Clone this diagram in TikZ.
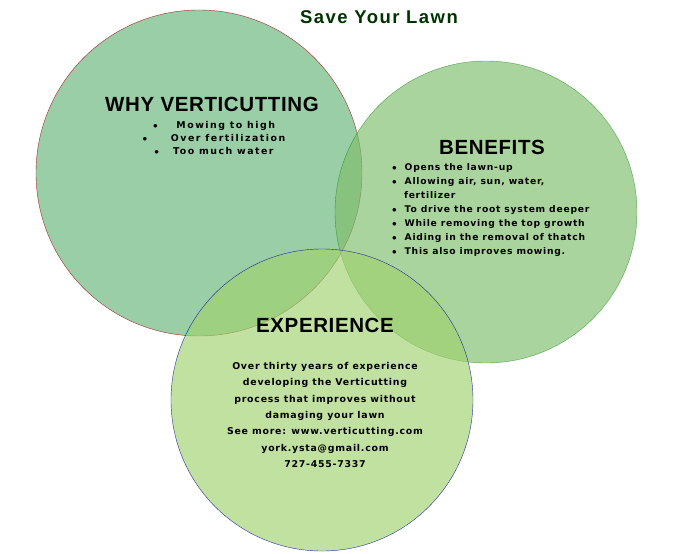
\documentclass[tikz,border=0pt]{standalone}
\usepackage{fontspec}
\setmainfont{DejaVu Sans}[LetterSpace=8]
\newfontfamily\hfont{Liberation Sans}[LetterSpace=3]
\begin{document}
\begin{tikzpicture}[x=1pt,y=-1pt,
 head/.style={font=\hfont\bfseries\fontsize{20.5}{22}\selectfont},
 small/.style={font=\bfseries\fontsize{9.2}{14}\selectfont},
 circ/.style={fill opacity=0.65}]
\useasboundingbox[fill=white] (0,0) rectangle (696,554);
\definecolor{cA}{RGB}{100,180,120}
\definecolor{cB}{RGB}{125,190,105}
\definecolor{cC}{RGB}{160,210,110}
\path[circ,fill=cA,draw=red!60!black,draw opacity=0.8] (199,173) circle (163);
\path[circ,fill=cB,draw=green!50!black,draw opacity=0.6] (486,212) circle (151);
\path[circ,fill=cC,draw=blue!60!black,draw opacity=0.8] (322,400) circle (151);
\node[font=\hfont\bfseries\fontsize{18.5}{20}\selectfont\addfontfeature{LetterSpace=8},text=black!80!green] (t) at (379,17) {Save Your Lawn};
\node[head] (w) at (212,104) {WHY VERTICUTTING};
\node[font=\fontsize{9.4}{13}\selectfont\bfseries\addfontfeature{LetterSpace=16},align=center] (wl) at (214,138) {$\bullet$\qquad Mowing to high\\ $\bullet$\qquad\ Over fertilization\\ $\bullet$\quad\ Too much water};
\node[head] (b) at (492,147) {BENEFITS};
\node[small,align=left,anchor=north west,inner sep=0pt] (bl) at (392,163) {$\bullet$\ \ Opens the lawn-up\\ $\bullet$\ \ Allowing air, sun, water,\\ \ \ \ fertilizer\\ $\bullet$\ \ To drive the root system deeper\\ $\bullet$\ \ While removing the top growth\\ $\bullet$\ \ Aiding in the removal of thatch\\ $\bullet$\ \ This also improves mowing.};
\node[head] (e) at (325,325) {EXPERIENCE};
\node[font=\bfseries\fontsize{9.4}{16.3}\selectfont,align=center] (el) at (325,415) {Over thirty years of experience\\ developing the Verticutting\\ process that improves without\\ damaging your lawn\\ See more: www.verticutting.com\\ york.ysta@gmail.com\\ 727-455-7337};
\end{tikzpicture}
\end{document}
